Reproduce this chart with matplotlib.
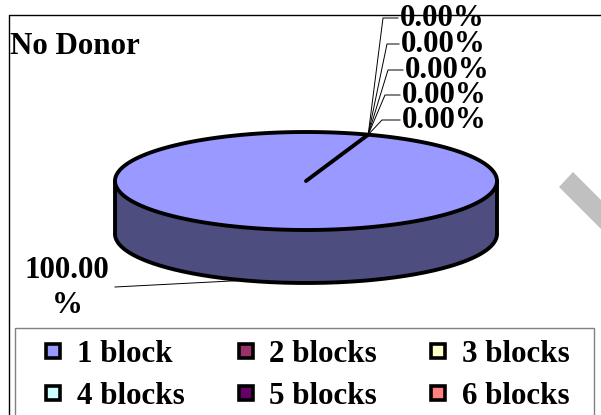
import numpy as np
import matplotlib
matplotlib.use("Agg")
import matplotlib.pyplot as plt
from matplotlib.patches import Polygon, Rectangle
from matplotlib.lines import Line2D

# ---- data ----
title = "No Donor"
categories = ["1 block", "2 blocks", "3 blocks", "4 blocks", "5 blocks", "6 blocks"]
shares = [100.0, 0.0, 0.0, 0.0, 0.0, 0.0]
colors = ["#9999FF", "#993366", "#FFFFCC", "#CCFFFF", "#660066", "#FF8080"]

# ---- layout (pixel coordinates, y downwards) ----
W, H = 601, 415
cx, cy, rx, ry, depth = 306, 181, 191, 49, 53
start_angle = 71.0          # where the first slice begins (degrees, counter-clockwise)
FONT = ["Liberation Serif", "DejaVu Serif"]
TXT = 22.3                  # points

fig = plt.figure(figsize=(W / 100, H / 100), dpi=100)
ax = fig.add_axes([0, 0, 1, 1])
ax.set_xlim(0, W)
ax.set_ylim(H, 0)
ax.axis("off")


def top_pt(theta):
    t = np.radians(theta)
    return cx + rx * np.cos(t), cy - ry * np.sin(t)


# chart frame (left and top edges)
ax.plot([9, 9, W], [H, 15, 15], color="black", lw=1.0, solid_capstyle="butt")

# light grey diagonal mark at the right edge
ax.add_patch(Polygon([(559, 187), (573, 172), (601, 200), (601, 229)],
                     closed=True, facecolor="#C0C0C0", edgecolor="none"))

# ---- slices: angles from the values ----
fracs = np.array(shares) / sum(shares)
bounds = start_angle - 360.0 * np.concatenate([[0], np.cumsum(fracs)])


def shade(c, f=0.5):
    r, g, b = matplotlib.colors.to_rgb(c)
    return (r * f, g * f, b * f)


OUT = 2.8
# side walls (front half only)
for i, f in enumerate(fracs):
    if f <= 0:
        continue
    th = np.linspace(bounds[i], bounds[i + 1], 721)
    front = np.sin(np.radians(th)) <= 0
    idx = np.where(front)[0]
    if len(idx) == 0:
        continue
    runs = np.split(idx, np.where(np.diff(idx) > 1)[0] + 1)
    for run in runs:
        t = th[run]
        xs, ys = top_pt(t)
        poly = np.column_stack([np.r_[xs, xs[::-1]], np.r_[ys, (ys + depth)[::-1]]])
        ax.add_patch(Polygon(poly, closed=True, facecolor=shade(colors[i], 0.5),
                             edgecolor="none", zorder=2))
        ax.plot(xs, ys + depth, color="black", lw=OUT, zorder=3,
                solid_capstyle="round")

# vertical edges of the side wall
for a in (180.0, 360.0):
    x0, y0 = top_pt(a)
    ax.plot([x0, x0], [y0, y0 + depth], color="black", lw=OUT, zorder=3,
            solid_capstyle="round")

# top faces
for i, f in enumerate(fracs):
    if f <= 0:
        continue
    th = np.linspace(bounds[i], bounds[i + 1], 721)
    xs, ys = top_pt(th)
    if f < 1.0:
        xs, ys = np.r_[cx, xs], np.r_[cy, ys]
    ax.add_patch(Polygon(np.column_stack([xs, ys]), closed=True,
                         facecolor=colors[i], edgecolor="black", lw=OUT, zorder=4,
                         joinstyle="round"))

# slice boundary radii
for b in np.unique(np.round(bounds % 360, 6)):
    x1, y1 = top_pt(b)
    ax.plot([cx, x1], [cy, y1], color="black", lw=OUT, zorder=5,
            solid_capstyle="round")

# ---- data labels ----
mids = (bounds[:-1] + bounds[1:]) / 2
# zero-share labels stacked on the upper right
zero_text_x = [400, 401, 405, 402, 402]
zero_text_y = [19, 45, 71, 96, 121]
zero_tick_x = [383, 387, 388, 385, 382]
k = 0
for i, v in enumerate(shares):
    if v > 0:
        continue
    ax_, ay_ = top_pt(mids[i])
    tx, ty = zero_text_x[k], zero_text_y[k]
    ax.plot([ax_, zero_tick_x[k], tx - 2], [ay_, ty - 1, ty - 1],
            color="black", lw=0.7, zorder=6)
    ax.text(tx, ty + 7, f"{v:.2f}%", fontsize=TXT, fontweight="bold", family=FONT,
            ha="left", va="baseline", zorder=7)
    k += 1

# non-zero labels at lower left
for i, v in enumerate(shares):
    if v <= 0:
        continue
    bx, by = top_pt(mids[i])
    by = by + depth
    ax.plot([115, bx], [287, by], color="black", lw=0.7, zorder=6)
    s = f"{v:.2f}%"
    ax.text(67, 288, s[:-1] + "\n%", fontsize=TXT, fontweight="bold", family=FONT,
            ha="center", va="center", multialignment="center", linespacing=1.25,
            zorder=7)

# title
ax.text(10, 54, title, fontsize=TXT, fontweight="bold", family=FONT,
        ha="left", va="baseline")

# ---- legend ----
ax.add_patch(Rectangle((15, 328), 579, 120, facecolor="white", edgecolor="#808080",
                       lw=1.0, zorder=1))
order = [0, 3, 1, 4, 2, 5]
handles = [Line2D([], [], linestyle="none", marker="s", markersize=10.5,
                  markerfacecolor=colors[j], markeredgecolor="black",
                  markeredgewidth=2.6) for j in order]
labels = [categories[j] for j in order]
leg = ax.legend(handles, labels, ncol=3, loc="upper left",
                bbox_to_anchor=(45 / W, 1 - 340 / H), bbox_transform=ax.transAxes,
                frameon=False, borderpad=0, borderaxespad=0,
                handlelength=0.52, handletextpad=0.5,
                columnspacing=1.72, labelspacing=0.42,
                prop={"family": FONT, "weight": "bold", "size": TXT})

fig.savefig("out.png", dpi=100)
